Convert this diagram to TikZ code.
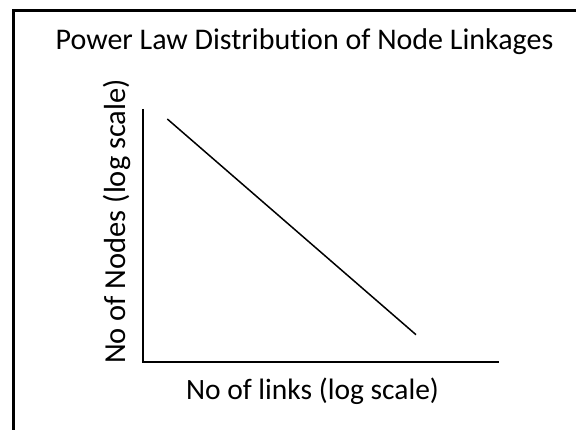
\documentclass[tikz,border=0pt]{standalone}
\usepackage{fontspec}
\setmainfont{Carlito}[Ligatures=NoCommon]
\begin{document}
\begin{tikzpicture}[x=1pt,y=-1pt,
  label/.style={inner sep=0pt,anchor=base,font=\fontsize{29.5}{32}\selectfont},
  axis/.style={line width=1.8pt},
  trend/.style={line width=1.5pt}]
  \useasboundingbox (0,0) rectangle (576,430);
  \clip (0,0) rectangle (576,430);
  \fill[white] (0,0) rectangle (576,430);
  % outer frame (runs past the right and bottom edges)
  \draw[line width=3pt] (13,11) rectangle (620,470);
  % title and axis labels
  \node[label,font=\fontsize{30}{32}\selectfont] (title) at (304.5,49.3) {Power Law Distribution of Node Linkages};
  \node[label] (xlab) at (312.5,399.3) {No of links (log scale)};
  \node[label,rotate=90,font=\fontsize{30.5}{32}\selectfont] (ylab) at (125,221.5) {No of Nodes (log scale)};
  % axes
  \coordinate (ytop) at (143.3,109);
  \coordinate (orig) at (143.3,362);
  \coordinate (xend) at (498.7,362);
  \draw[axis] (ytop) -- (orig) -- (xend);
  % power-law line
  \coordinate (lstart) at (167.3,119);
  \coordinate (lend) at (416,334.7);
  \draw[trend] (lstart) -- (lend);
\end{tikzpicture}
\end{document}
